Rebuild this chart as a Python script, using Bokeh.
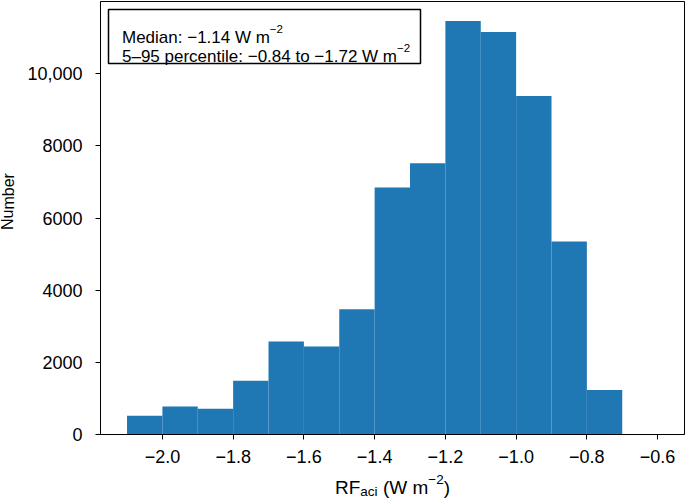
from bokeh.plotting import figure
from bokeh.layouts import row, column
from bokeh.models import (Range1d, FixedTicker, CustomJSTickFormatter, Label,
                          BoxAnnotation, ColumnDataSource)
from bokeh.embed import file_html
from bokeh.resources import INLINE

# ---------------- data ----------------
bin_left = [-2.1, -2.0, -1.9, -1.8, -1.7, -1.6, -1.5, -1.4, -1.3, -1.2, -1.1, -1.0, -0.9, -0.8]
bin_right = [-2.0, -1.9, -1.8, -1.7, -1.6, -1.5, -1.4, -1.3, -1.2, -1.1, -1.0, -0.9, -0.8, -0.7]
counts = [518, 776, 712, 1488, 2576, 2438, 3474, 6842, 7518, 11460, 11155, 9382, 5346, 1230]
x_ticks = [-2.0, -1.8, -1.6, -1.4, -1.2, -1.0, -0.8, -0.6]
y_ticks = [0, 2000, 4000, 6000, 8000, 10000]
box_line1 = [("Median: \u22121.14 W m", "main"), ("\u22122", "sup")]
box_line2 = [("5\u201395 percentile: \u22120.84 to \u22121.72 W m", "main"), ("\u22122", "sup")]
xlabel_parts = [("RF", "main"), ("aci", "sub"), (" ", "gap"), ("(W m", "main"),
                ("\u22122", "sup"), (")", "main")]
ylabel_text = "Number"

# ---------------- layout ----------------
FONT = "Liberation Sans"
X0, X1 = -2.175, -0.524
Y0, Y1 = 0, 12000
LS = 20                      # left strip width (y label)
BL, BR, BT, BB = 80, 1, 1, 36
FW, FH = 584, 433
MAIN_W = BL + FW + BR        # 665
MAIN_H = BT + FH + BB        # 470
XS_H = 28                    # bottom strip height (x label)
TOTAL_H = MAIN_H + XS_H      # 498
FRAME_LEFT_PAGE = LS + BL    # 100


def xd(px):
    return X0 + px * (X1 - X0) / FW


def yd(px_from_top):
    return Y1 - px_from_top * (Y1 - Y0) / FH


W_ = {'R': 722, 'F': 611, 'a': 556, 'c': 500, 'i': 222, ' ': 278, '(': 333, 'W': 944,
      'm': 833, '\u2212': 584, '2': 556, ')': 333, 'M': 833, 'e': 556, 'd': 556, 'n': 556,
      ':': 278, '1': 556, '.': 278, '4': 556, '5': 556, '\u2013': 556, '9': 556, 'p': 556,
      'r': 333, 't': 278, 'l': 222, '0': 556, '8': 556, 'o': 556, '7': 556}


def tw(s, size):
    return sum(W_.get(ch, 556) for ch in s) * size / 1000.0


p = figure(frame_width=FW, frame_height=FH, x_range=Range1d(X0, X1), y_range=Range1d(Y0, Y1),
           output_backend="svg", toolbar_location=None, title=None,
           min_border_left=BL, min_border_right=BR, min_border_top=BT, min_border_bottom=BB)

src = ColumnDataSource(dict(left=bin_left, right=bin_right, top=counts))
p.quad(left="left", right="right", top="top", bottom=0, source=src,
       fill_color="#1f77b4", line_color=None)

p.xgrid.visible = False
p.ygrid.visible = False
p.outline_line_color = "black"
p.outline_line_width = 1
p.outline_line_alpha = 1
p.background_fill_color = "white"
p.border_fill_color = "white"

p.xaxis.ticker = FixedTicker(ticks=x_ticks)
p.yaxis.ticker = FixedTicker(ticks=y_ticks)
p.xaxis.formatter = CustomJSTickFormatter(
    code="return (tick < 0 ? '\u2212' : '') + Math.abs(tick).toFixed(1);")
p.yaxis.formatter = CustomJSTickFormatter(
    code="return tick >= 10000 ? tick.toLocaleString('en-US') : tick.toFixed(0);")
for ax in (p.xaxis[0], p.yaxis[0]):
    ax.major_tick_out = 5
    ax.major_tick_in = 0
    ax.minor_tick_out = 0
    ax.minor_tick_in = 0
    ax.axis_line_color = "black"
    ax.major_tick_line_color = "black"
    ax.major_label_text_font = FONT
    ax.major_label_text_font_size = "18px"
    ax.major_label_text_color = "black"
p.xaxis.major_label_standoff = 10
p.yaxis.major_label_standoff = 13

# text box
box = BoxAnnotation(left=xd(8), right=xd(320), top=yd(8), bottom=yd(62),
                    fill_color="white", fill_alpha=1, line_color="black", line_alpha=1,
                    line_width=1.5, level="overlay")
p.add_layout(box)

SHIFT = {"main": 0, "sub": -4.5, "sup": 8, "gap": 0}


def place(fig, parts, x_px, base_px, main_size, small_size, to_x, to_y):
    x = x_px
    for txt, kind in parts:
        size = small_size if kind in ("sub", "sup") else main_size
        if kind != "gap":
            fig.add_layout(Label(x=to_x(x), y=to_y(base_px - SHIFT[kind]), text=txt,
                                 text_font=FONT, text_font_size=f"{size}px",
                                 text_color="black", text_align="left",
                                 text_baseline="alphabetic", level="overlay"))
        x += tw(txt, size)


place(p, box_line1, 21.5, 35.5, 17, 11.5, xd, yd)
place(p, box_line2, 21.5, 54.5, 17, 11.5, xd, yd)

# ---------------- left strip: y label ----------------
ys = figure(width=LS, height=TOTAL_H, x_range=Range1d(0, LS), y_range=Range1d(TOTAL_H, 0),
            output_backend="svg", toolbar_location=None, title=None,
            x_axis_type=None, y_axis_type=None, min_border=0)
ys.outline_line_color = None
ys.xgrid.visible = False
ys.ygrid.visible = False
ys.add_layout(Label(x=7.5, y=201, text=ylabel_text, angle=1.5707963,
                    text_font=FONT, text_font_size="16px", text_color="black",
                    text_align="center", text_baseline="middle"))

# ---------------- bottom strip: x label (frame aligned with main frame) ----------------
xs = figure(width=MAIN_W, height=XS_H, x_range=Range1d(0, FW), y_range=Range1d(XS_H, 0),
            output_backend="svg", toolbar_location=None, title=None,
            x_axis_type=None, y_axis_type=None, min_border=0,
            min_border_left=BL, min_border_right=BR)
xs.outline_line_color = None
xs.xgrid.visible = False
xs.ygrid.visible = False
xl_main, xl_small = 19, 13.5
total = sum(tw(t, xl_small if k in ("sub", "sup") else xl_main) for t, k in xlabel_parts)
place(xs, xlabel_parts, (392 - FRAME_LEFT_PAGE) - total / 2, 16.5, xl_main, xl_small,
      lambda v: v, lambda v: v)

layout = row(ys, column(p, xs, spacing=0), spacing=0)
open("out.html", "w").write(file_html(layout, INLINE))
